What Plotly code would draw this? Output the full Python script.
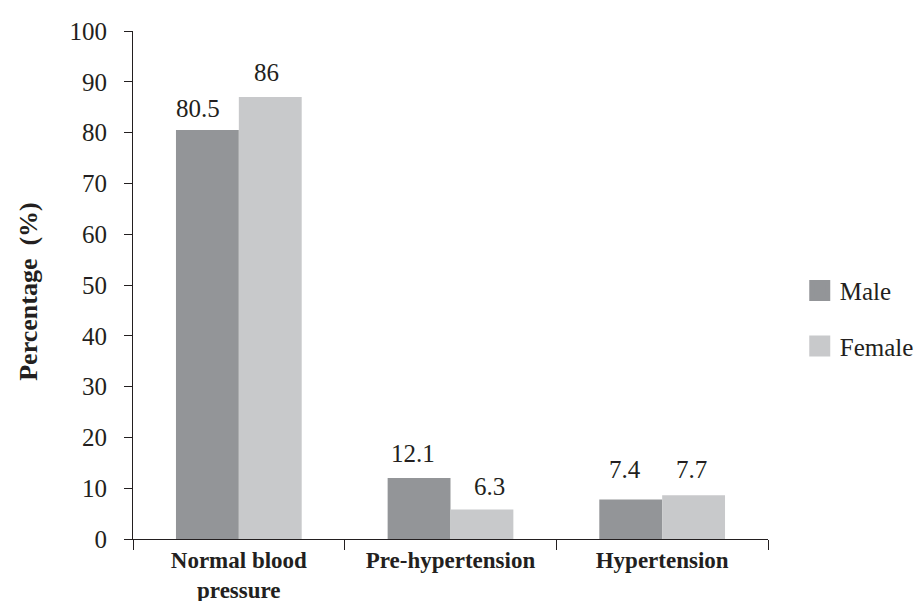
import plotly.graph_objects as go

categories = ["Normal blood<br>pressure", "Pre-hypertension", "Hypertension"]
male_values = [80.5, 12.0, 7.8]
female_values = [87.0, 5.8, 8.6]
male_labels = ["80.5", "12.1", "7.4"]
female_labels = ["86", "6.3", "7.7"]
y_ticks = [0, 10, 20, 30, 40, 50, 60, 70, 80, 90, 100]

MALE_COLOR = "#939598"
FEMALE_COLOR = "#c8c9cb"
TEXT_COLOR = "#231f20"
FONT = "Liberation Serif"

fig = go.Figure()
fig.add_trace(go.Bar(x=categories, y=male_values, name="Male", showlegend=False,
                     marker=dict(color=MALE_COLOR, line=dict(width=0))))
fig.add_trace(go.Bar(x=categories, y=female_values, name="Female", showlegend=False,
                     marker=dict(color=FEMALE_COLOR, line=dict(width=0))))
# legend entries (square swatches)
fig.add_trace(go.Scatter(x=[None], y=[None], mode="markers", name="Male",
                         legendgroup="m",
                         marker=dict(symbol="square", size=30, color=MALE_COLOR,
                                     line=dict(width=5, color=MALE_COLOR))))
fig.add_trace(go.Scatter(x=[None], y=[None], mode="markers", name="Female",
                         legendgroup="f",
                         marker=dict(symbol="square", size=30, color=FEMALE_COLOR,
                                     line=dict(width=5, color=FEMALE_COLOR))))

# value labels (offsets relative to bar tops)
male_xshift = [-9, -6, -5]
male_yshift = [22, 25, 30]
female_xshift = [-4, 7, -2]
female_yshift = [25, 23, 26]
half = 31.8
for i, c in enumerate(categories):
    fig.add_annotation(x=c, y=male_values[i], text=male_labels[i], showarrow=False,
                       xshift=-half + male_xshift[i], yshift=male_yshift[i],
                       yanchor="middle", font=dict(family=FONT, size=25, color=TEXT_COLOR))
    fig.add_annotation(x=c, y=female_values[i], text=female_labels[i], showarrow=False,
                       xshift=half + female_xshift[i], yshift=female_yshift[i],
                       yanchor="middle", font=dict(family=FONT, size=25, color=TEXT_COLOR))

fig.update_layout(
    width=923, height=601,
    margin=dict(l=125, r=156, t=23, b=70),
    plot_bgcolor="white", paper_bgcolor="white",
    barmode="group", bargap=0.406, bargroupgap=0,
    font=dict(family=FONT, color=TEXT_COLOR),
    showlegend=True,
    legend=dict(x=1.05, y=0.534, xanchor="left", yanchor="top",
                font=dict(family=FONT, size=25, color=TEXT_COLOR),
                itemsizing="trace",
                tracegroupgap=20, bgcolor="rgba(0,0,0,0)"),
    xaxis=dict(
        automargin=False,
        showline=True, linecolor=TEXT_COLOR, linewidth=1.2,
        ticks="outside", tickson="boundaries", ticklen=10, tickcolor=TEXT_COLOR,
        tickfont=dict(family=FONT, size=23, color=TEXT_COLOR),
        showgrid=False, zeroline=False,
        tickprefix="<b>", ticksuffix="</b>",
    ),
    yaxis=dict(
        automargin=False,
        range=[0, 100], tickvals=y_ticks,
        showline=True, linecolor=TEXT_COLOR, linewidth=1.2,
        ticks="outside", ticklen=8, tickwidth=1.2, tickcolor=TEXT_COLOR,
        tickfont=dict(family=FONT, size=25, color=TEXT_COLOR),
        ticklabelstandoff=12,
        showgrid=False, zeroline=False,
        title=dict(text="<b>Percentage  (%)\u00a0\u00a0</b>", standoff=24,
                   font=dict(family=FONT, size=26, color=TEXT_COLOR)),
    ),
)

fig.write_html("out.html")
